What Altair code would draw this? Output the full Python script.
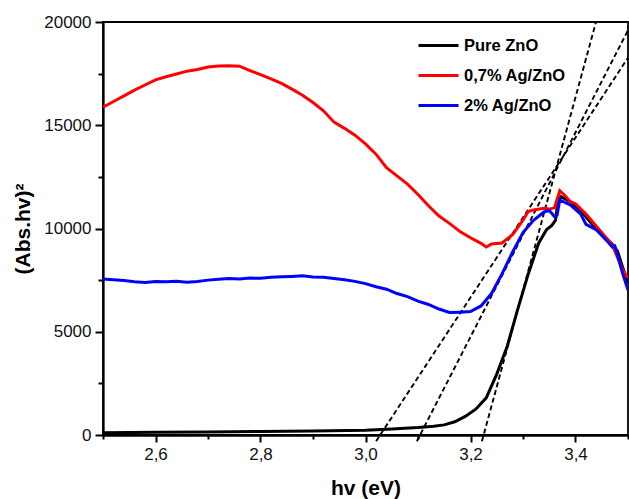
import altair as alt
import pandas as pd

# ---- data ----
red_x = [2.50, 2.52, 2.54, 2.56, 2.58, 2.60, 2.62, 2.64, 2.66, 2.68, 2.70, 2.72, 2.74, 2.76, 2.78,
         2.80, 2.82, 2.84, 2.86, 2.88, 2.90, 2.92, 2.94, 2.96, 2.98, 3.00, 3.02, 3.04, 3.06, 3.08,
         3.10, 3.12, 3.14, 3.16, 3.18, 3.20, 3.22, 3.23, 3.24, 3.26, 3.28, 3.30, 3.31, 3.32, 3.34,
         3.35, 3.36, 3.37, 3.38, 3.39, 3.40, 3.42, 3.44, 3.46, 3.47, 3.48, 3.49, 3.50]
red_y = [15880, 16150, 16420, 16700, 16950, 17200, 17350, 17480, 17620, 17700, 17820, 17870, 17880, 17860, 17650,
         17450, 17250, 17030, 16750, 16450, 16100, 15700, 15150, 14850, 14520, 14100, 13600, 12950, 12550, 12150,
         11650, 11100, 10600, 10250, 9850, 9550, 9280, 9100, 9250, 9300, 9700, 10400, 10820, 10900, 10980,
         10940, 11000, 11830, 11600, 11300, 11200, 10700, 10100, 9500, 9200, 8600, 8000, 7600]

blue_x = [2.50, 2.52, 2.54, 2.56, 2.58, 2.60, 2.62, 2.64, 2.66, 2.68, 2.70, 2.72, 2.74, 2.76, 2.78,
          2.80, 2.82, 2.84, 2.86, 2.88, 2.90, 2.92, 2.94, 2.96, 2.98, 3.00, 3.02, 3.04, 3.06, 3.08,
          3.10, 3.12, 3.14, 3.16, 3.18, 3.20, 3.22, 3.24, 3.26, 3.28, 3.30, 3.32, 3.34, 3.35, 3.36,
          3.365, 3.37, 3.39, 3.41, 3.42, 3.44, 3.46, 3.47, 3.475, 3.48, 3.49, 3.50]
blue_y = [7550, 7520, 7480, 7420, 7380, 7430, 7420, 7440, 7400, 7430, 7500, 7540, 7580, 7560, 7600,
          7590, 7640, 7660, 7680, 7710, 7650, 7640, 7580, 7520, 7440, 7330, 7180, 7060, 6850, 6700,
          6480, 6320, 6100, 5930, 5950, 5980, 6250, 6850, 7800, 8850, 9800, 10400, 10800, 10870, 10580,
          10650, 11380, 11140, 10700, 10200, 9930, 9400, 9100, 9150, 8700, 7800, 7020]

black_x = [2.50, 2.60, 2.70, 2.80, 2.90, 3.00, 3.05, 3.10, 3.13, 3.15, 3.17, 3.19, 3.21, 3.23, 3.25,
           3.27, 3.29, 3.31, 3.33, 3.345, 3.355, 3.362, 3.366, 3.372, 3.39, 3.41, 3.43, 3.45, 3.47,
           3.48, 3.49, 3.50]
black_y = [110, 130, 150, 170, 190, 230, 290, 360, 420, 490, 640, 900, 1250, 1800, 2950,
           4300, 6100, 7800, 9300, 9950, 10150, 10400, 11200, 11550, 11300, 10880, 10250, 9700, 9250,
           8900, 8100, 7350]

series_names = ["Pure ZnO", "0,7% Ag/ZnO", "2% Ag/ZnO"]
series_colors = ["#000000", "#ff0000", "#0000ff"]

# tangent (Tauc) lines: two points each (they start just below the x axis)
tangent_ids = ["a", "a", "b", "b", "c", "c"]
tangent_x = [3.0202, 3.50, 3.0979, 3.50, 3.2218, 3.439]
tangent_y = [-300, 18270, -300, 19600, -300, 20000]

x_major = [2.6, 2.8, 3.0, 3.2, 3.4]
x_minor = [2.5, 2.7, 2.9, 3.1, 3.3, 3.5]
y_major = [0, 5000, 10000, 15000, 20000]
y_minor = [2500, 7500, 12500, 17500]

# ---- build tables ----
rows = []
for name, xs, ys in [("Pure ZnO", black_x, black_y),
                     ("0,7% Ag/ZnO", red_x, red_y),
                     ("2% Ag/ZnO", blue_x, blue_y)]:
    for i, (a, b) in enumerate(zip(xs, ys)):
        rows.append({"series": name, "hv": a, "val": b, "idx": i})
curves = pd.DataFrame(rows)
tangents = pd.DataFrame({"id": tangent_ids, "hv": tangent_x, "val": tangent_y})

FONT = "Liberation Sans"

x_scale = alt.Scale(domain=[2.5, 3.5], nice=False, zero=False)
y_scale = alt.Scale(domain=[0, 20000], nice=False)

tick_style = dict(ticks=True, tickColor="#000000", tickWidth=2, tickOpacity=1,
                  domainColor="#000000", domainWidth=1.8, grid=False)

x_axis_major = alt.Axis(
    orient="bottom",
    values=x_major,
    title="hv (eV)",
    labelExpr="replace(format(datum.value, '.1f'), '.', ',')",
    tickSize=7,
    **tick_style,
)
y_axis_major = alt.Axis(
    orient="left",
    values=y_major,
    title="(Abs.hv)²",
    format="d",
    tickSize=8,
    **tick_style,
)
x_axis_minor = alt.Axis(
    orient="bottom", values=x_minor, title=None, labels=False, tickSize=4, **tick_style
)
y_axis_minor = alt.Axis(
    orient="left", values=y_minor, title=None, labels=False, tickSize=5, **tick_style
)

lines = alt.Chart(curves).mark_line(strokeWidth=3, clip=True).encode(
    x=alt.X("hv:Q", scale=x_scale, axis=x_axis_major),
    y=alt.Y("val:Q", scale=y_scale, axis=y_axis_major),
    color=alt.Color(
        "series:N",
        scale=alt.Scale(domain=series_names, range=series_colors),
        sort=series_names,
        legend=alt.Legend(
            title=None,
            orient="none",
            legendX=314,
            legendY=2,
            symbolType="stroke",
            symbolSize=1600,
            symbolStrokeWidth=3,
            labelFont=FONT,
            labelFontSize=16.5,
            labelFontWeight="bold",
            labelColor="#000000",
            rowPadding=-19,
            labelOffset=4,
        ),
    ),
    order="idx:Q",
)

dashes = alt.Chart(tangents).mark_line(
    color="black", strokeWidth=1.9, strokeDash=[5, 3], clip=False
).encode(
    x=alt.X("hv:Q", scale=x_scale, axis=x_axis_minor),
    y=alt.Y("val:Q", scale=y_scale, axis=y_axis_minor),
    detail="id:N",
)

chart = alt.layer(dashes, lines).resolve_axis(
    x="independent", y="independent"
).properties(
    width=525,
    height=413,
    autosize=alt.AutoSizeParams(type="none"),
    padding={"left": 103, "top": 22, "right": 1, "bottom": 64},
    background="white",
).configure_view(
    stroke="black", strokeWidth=1.8
).configure_axis(
    labelFont=FONT,
    labelFontSize=17,
    labelColor="#111111",
    labelPadding=4,
    titleFont=FONT,
    titleFontSize=21,
    titleFontWeight="bold",
    titleColor="black",
).configure_axisY(
    titlePadding=10,
).configure_axisX(
    titlePadding=15,
)

chart.save("out.html", embed_options={"renderer": "svg", "actions": False})
